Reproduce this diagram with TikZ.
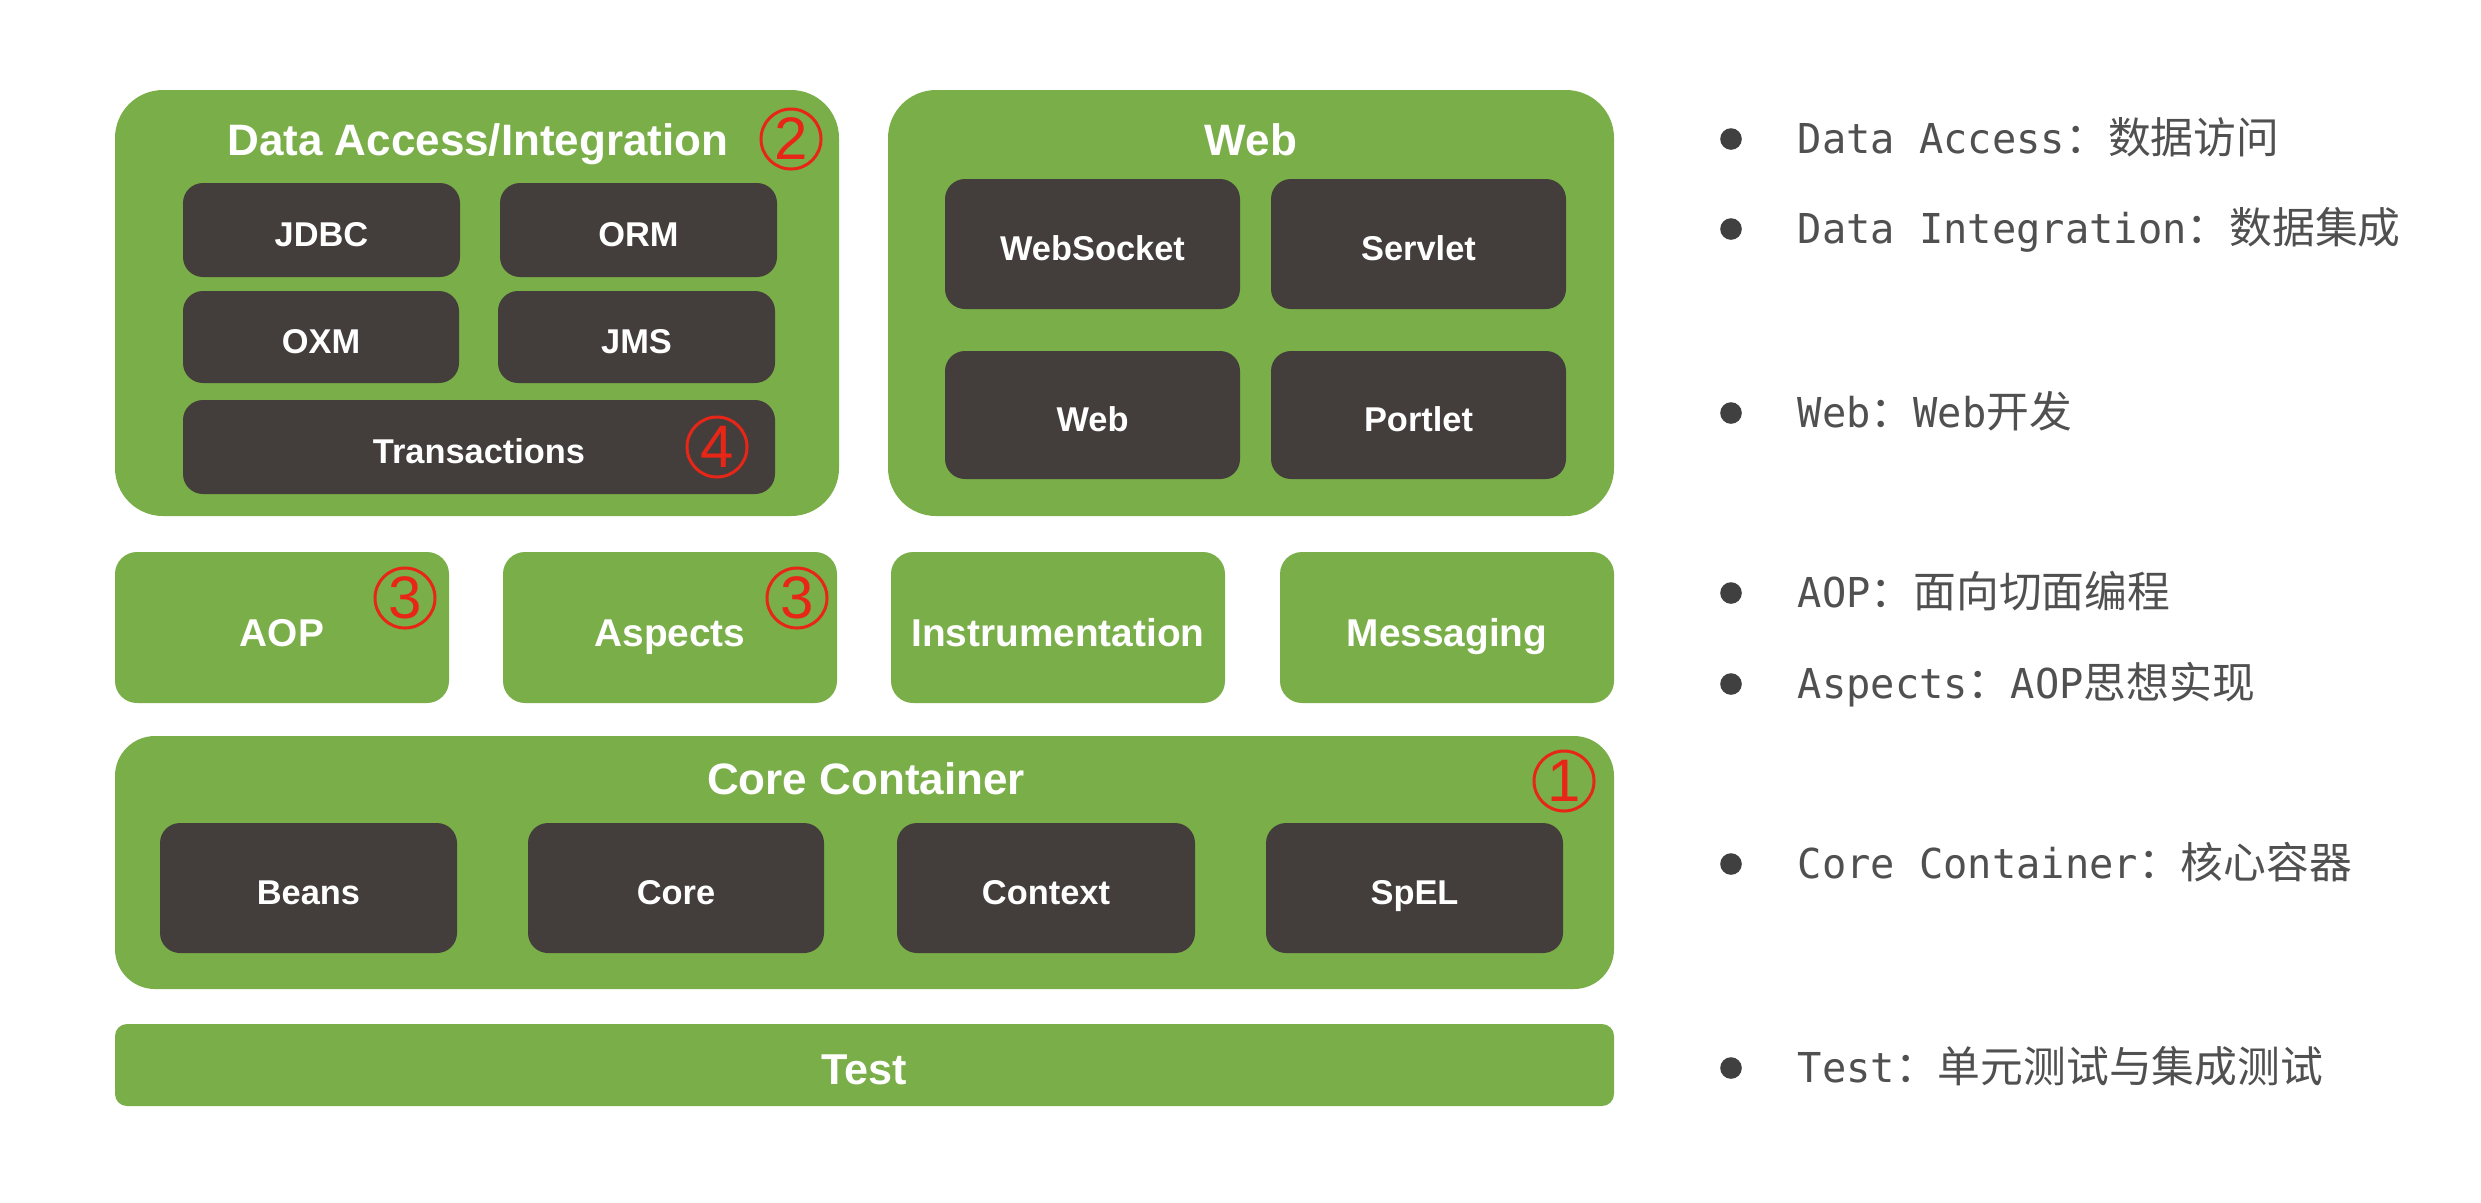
\documentclass[tikz,border=0pt]{standalone}
\usepackage{fontspec}
\setmainfont{Liberation Sans}
\newfontfamily\cjk{Noto Sans CJK SC}
\newfontfamily\mono[FakeStretch=0.98]{DejaVu Sans Mono}
\definecolor{sgreen}{RGB}{122,174,73}
\definecolor{sdark}{RGB}{67,61,59}
\definecolor{sred}{RGB}{232,38,24}
\definecolor{sgray}{RGB}{80,80,80}
\newcommand\bx[7]{\node[#1, minimum width={(#5-#3)*0.25pt}, minimum height={(#6-#4)*0.25pt}] (#2) at ({(#3+#5)/2},{(#4+#6)/2}) {#7};}
\newcommand\lat[1]{{\mono\fontsize{10.3}{12}\selectfont #1}}
\newcommand\zh[1]{{\cjk #1}}
\newcommand\lowr[1]{\raisebox{-1.2pt}{#1}}
\newcommand\lowd[1]{\raisebox{-0.5pt}{#1}}
\begin{document}
\begin{tikzpicture}[x=0.25pt,y=-0.25pt,
  gbox/.style={fill=sgreen, inner sep=0pt, outer sep=0pt},
  bigbox/.style={gbox, rounded corners=12pt},
  corebox/.style={gbox, rounded corners=10pt},
  rowbox/.style={gbox, rounded corners=5.5pt, text=white, text height=0.72em, text depth=0pt, font=\bfseries\fontsize{9.7}{11}\selectfont},
  testbox/.style={gbox, rounded corners=3pt, text=white, text height=0.72em, text depth=0pt, font=\bfseries\fontsize{10.8}{12}\selectfont},
  dbox/.style={fill=sdark, rounded corners=5pt, text=white, inner sep=0pt, text height=0.72em, text depth=0pt, font=\bfseries\fontsize{8.6}{10}\selectfont},
  title/.style={text=white, inner sep=0pt, anchor=base, font=\bfseries\fontsize{11}{13}\selectfont},
  num/.style={circle, draw=sred, line width=0.75pt, text=sred, minimum size=15pt, inner sep=0pt, font=\fontsize{15}{15}\selectfont},
  dot/.style={circle, fill=sgray!80!black, minimum size=5.4pt, inner sep=0pt},
  item/.style={anchor=base west, text=sgray, inner sep=0pt, font=\fontsize{10.7}{12}\selectfont}]
\useasboundingbox (0,0) rectangle (2481,1202);
\fill[white] (0,0) rectangle (2481,1202);

% Data Access / Integration
\bx{bigbox}{da}{115}{90}{839}{516}{}
\node[title] (datitle) at (478,155) {Data Access/Integration};
\bx{dbox}{jdbc}{183}{183}{460}{277}{\lowd{JDBC}}
\bx{dbox}{orm}{500}{183}{777}{277}{\lowd{ORM}}
\bx{dbox}{oxm}{183}{291}{459}{383}{\lowd{OXM}}
\bx{dbox}{jms}{498}{291}{775}{383}{\lowd{JMS}}
\bx{dbox}{tx}{183}{400}{775}{494}{\lowd{Transactions}}
\node[num] (n2) at (791,139) {2};
\node[num] (n4) at (717,447) {4};

% Web
\bx{bigbox}{web}{888}{90}{1614}{516}{}
\node[title] (webtitle) at (1251,155) {Web};
\bx{dbox}{websocket}{945}{179}{1240}{309}{\lowd{WebSocket}}
\bx{dbox}{servlet}{1271}{179}{1566}{309}{\lowd{Servlet}}
\bx{dbox}{webm}{945}{351}{1240}{479}{\lowd{Web}}
\bx{dbox}{portlet}{1271}{351}{1566}{479}{\lowd{Portlet}}

% middle row
\bx{rowbox}{aop}{115}{552}{449}{703}{\lowr{AOP}}
\bx{rowbox}{aspects}{503}{552}{837}{703}{\lowr{Aspects}}
\bx{rowbox}{instr}{891}{552}{1225}{703}{\lowr{Instrumentation}}
\bx{rowbox}{msg}{1280}{552}{1614}{703}{\lowr{Messaging}}
\node[num] (n3a) at (405,598) {3};
\node[num] (n3b) at (797,598) {3};

% Core Container
\bx{corebox}{core}{115}{736}{1614}{989}{}
\node[title] (coretitle) at (866,794) {Core Container};
\bx{dbox}{beans}{160}{823}{457}{953}{\lowd{Beans}}
\bx{dbox}{corem}{528}{823}{824}{953}{\lowd{Core}}
\bx{dbox}{context}{897}{823}{1195}{953}{\lowd{Context}}
\bx{dbox}{spel}{1266}{823}{1563}{953}{\lowd{SpEL}}
\node[num] (n1) at (1564,781) {1};

% Test
\bx{testbox}{test}{115}{1024}{1614}{1106}{\lowr{Test}}

% right-hand list
\node[dot] (b1) at (1731,139) {};
\node[item] (t1) at (1797,153) {\lat{Data Access}\zh{：数据访问}};
\node[dot] (b2) at (1731,229) {};
\node[item] (t2) at (1797,243) {\lat{Data Integration}\zh{：数据集成}};
\node[dot] (b3) at (1731,413) {};
\node[item] (t3) at (1797,427) {\lat{Web}\zh{：}\lat{Web}\zh{开发}};
\node[dot] (b4) at (1731,593) {};
\node[item] (t4) at (1797,607) {\lat{AOP}\zh{：面向切面编程}};
\node[dot] (b5) at (1731,684) {};
\node[item] (t5) at (1797,698) {\lat{Aspects}\zh{：}\lat{AOP}\zh{思想实现}};
\node[dot] (b6) at (1731,864) {};
\node[item] (t6) at (1797,878) {\lat{Core Container}\zh{：核心容器}};
\node[dot] (b7) at (1731,1068) {};
\node[item] (t7) at (1797,1082) {\lat{Test}\zh{：单元测试与集成测试}};
\end{tikzpicture}
\end{document}
